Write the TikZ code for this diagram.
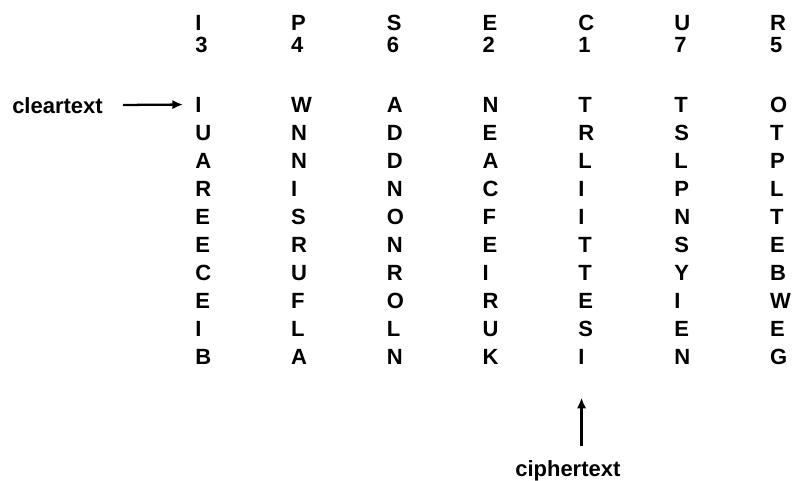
\documentclass[tikz,border=0pt]{standalone}
\usepackage{fontspec}
\setmainfont{Liberation Sans}
\usetikzlibrary{arrows.meta}

\begin{document}
\begin{tikzpicture}[x=0.75pt,y=-0.75pt,every node/.style={font=\bfseries\fontsize{16.5}{18}\selectfont,inner sep=0pt,anchor=base west},
  arr/.style={line width=1.7pt,-{Latex[length=8pt,width=7pt]}}]
\useasboundingbox (0,0) rectangle (799,480);
% key row, order row and the text columns
\foreach \c/\k/\n/\col in {1/I/3/{I,U,A,R,E,E,C,E,I,B},2/P/4/{W,N,N,I,S,R,U,F,L,A},3/S/6/{A,D,D,N,O,N,R,O,L,N},4/E/2/{N,E,A,C,F,E,I,R,U,K},5/C/1/{T,R,L,I,I,T,T,E,S,I},6/U/7/{T,S,L,P,N,S,Y,I,E,N},7/R/5/{O,T,P,L,T,E,B,W,E,G}} {
  \node (k\c) at (195+95.8*\c-95.8,30) {\k};
  \node (n\c) at (195+95.8*\c-95.8,52) {\n};
  \foreach \ch [count=\r] in \col {\node (t\c-\r) at (195+95.8*\c-95.8,84+28*\r) {\ch};}
}
\node (clear) at (12,113) {cleartext};
\draw[arr,shorten <=15pt,shorten >=9pt] (clear.east) -- (t1-1.west);
\node (cipher) at (515,476) {ciphertext};
\draw[arr,shorten <=10pt,shorten >=25pt] (cipher.north -| t5-10.south) -- (t5-10.south);
\end{tikzpicture}
\end{document}
